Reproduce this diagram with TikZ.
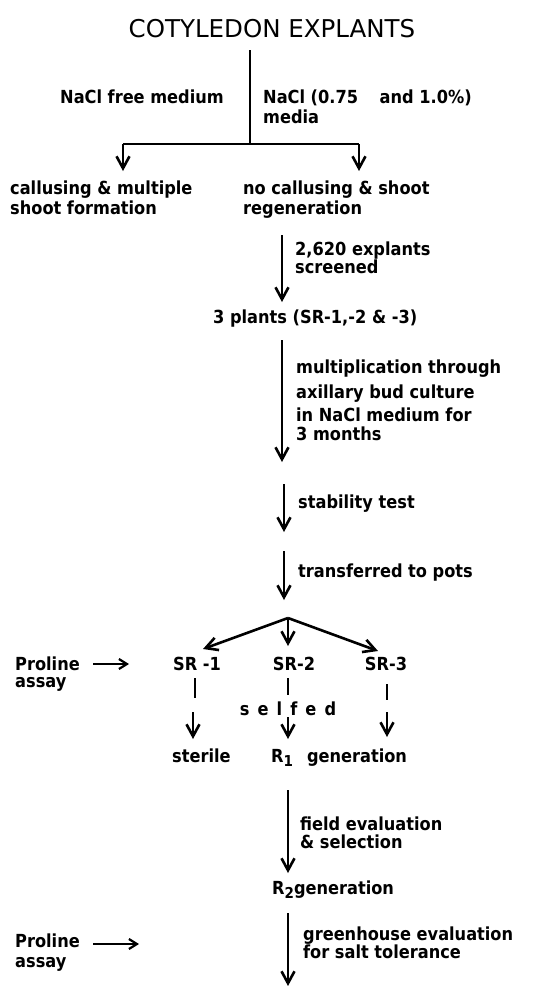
\documentclass[tikz,border=0pt]{standalone}
\usepackage{fontspec}
\usetikzlibrary{arrows.meta}
\newfontfamily\titlefont{DejaVu Sans}
\newfontfamily\labfont{DejaVu Sans Condensed}
\tikzset{
  lab/.style={font=\labfont\bfseries\fontsize{18}{20}\selectfont, inner sep=0pt, anchor=base west},
  labc/.style={lab, anchor=base},
  flow/.style={line width=2.6pt, -{Straight Barb[length=12pt,width=13pt]}},
  plain/.style={line width=2.6pt},
  tick/.style={line width=2.2pt},
  side/.style={line width=2.2pt, -{Straight Barb[length=8pt,width=10pt]}}
}
\newcommand{\subdown}[1]{\raisebox{-4pt}{\fontsize{15}{15}\selectfont #1}}
\begin{document}
\begin{tikzpicture}[x=1pt,y=-1pt]
\useasboundingbox (0,0) rectangle (549,986);

% title and first split
\node[inner sep=0pt, anchor=base, font=\titlefont\fontsize{24.5}{28}\selectfont] (title) at (272,37) {COTYLEDON EXPLANTS};
\coordinate (split) at (250,144);
\coordinate (splitL) at (123,144);
\coordinate (splitR) at (359,144);
\coordinate (callL) at (123,171);
\coordinate (callR) at (359,171);
\draw[plain] (250,50) -- (split);
\draw[plain] (splitL) -- (splitR);
\draw[flow] (splitL) -- (callL);
\draw[flow] (splitR) -- (callR);

\node[lab] (free) at (60,103) {NaCl free medium};
\node[lab] (salt) at (263,103) {NaCl (0.75\hspace{16pt} and 1.0\%)};
\node[lab] (media) at (263,123) {media};

\node[lab] (callA) at (10,194) {callusing \& multiple};
\node[lab] (callB) at (10,214) {shoot formation};
\node[lab] (noA) at (243,194) {no callusing \& shoot};
\node[lab] (noB) at (243,214) {regeneration};

% screening
\coordinate (s1) at (282,235);
\coordinate (s2) at (282,302);
\draw[flow] (s1) -- (s2);
\node[lab] (scrA) at (295,255) {2,620 explants};
\node[lab] (scrB) at (295,273) {screened};

\node[lab] (plants) at (213,323) {3 plants (SR-1,-2 \& -3)};

% multiplication
\coordinate (m1) at (282,340);
\coordinate (m2) at (282,462);
\draw[flow] (m1) -- (m2);
\node[lab] (mulA) at (296,373) {multiplication through};
\node[lab] (mulB) at (296,398) {axillary bud culture};
\node[lab] (mulC) at (296,421) {in NaCl medium for};
\node[lab] (mulD) at (296,440) {3 months};

% stability
\coordinate (st1) at (284,484);
\coordinate (st2) at (284,532);
\draw[flow] (st1) -- (st2);
\node[lab] (stab) at (298,508) {stability test};

% transfer
\coordinate (t1) at (284,551);
\coordinate (t2) at (284,600);
\draw[flow] (t1) -- (t2);
\node[lab] (trans) at (298,577) {transferred to pots};

% three lines
\coordinate (br) at (288,618);
\node[labc] (sr1) at (197,670) {SR -1};
\node[labc] (sr2) at (294,670) {SR-2};
\node[labc] (sr3) at (386,670) {SR-3};
\draw[flow] (br) -- (203,649);
\draw[flow] (br) -- (288,646);
\draw[flow] (br) -- (378,651);

\node[lab] (pro1) at (15,670) {Proline};
\node[lab] (as1) at (15,687) {assay};
\draw[side] (93,664) -- (129,664);

\draw[tick] (195,678) -- (195,698);
\draw[tick] (288,678) -- (288,695);
\draw[tick] (387,684) -- (387,700);
\node[labc, font=\labfont\bfseries\fontsize{18}{20}\selectfont\addfontfeature{LetterSpace=45}] (selfed) at (288,715) {selfed};
\draw[flow] (193,712) -- (193,739);
\draw[flow] (288,717) -- (288,739);
\draw[flow] (387,712) -- (387,737);

\node[lab] (steril) at (172,762) {sterile};
\node[lab] (r1) at (271,762) {R\subdown{1}\hspace{14pt}generation};

% field evaluation
\coordinate (f1) at (288,790);
\coordinate (f2) at (288,873);
\draw[flow] (f1) -- (f2);
\node[lab] (fldA) at (300,830) {field evaluation};
\node[lab] (fldB) at (300,848) {\& selection};

\node[lab] (r2) at (272,894) {R\subdown{2}generation};

% greenhouse
\coordinate (g1) at (288,913);
\coordinate (g2) at (288,986);
\draw[flow] (g1) -- (g2);
\node[lab] (grA) at (303,940) {greenhouse evaluation};
\node[lab] (grB) at (303,958) {for salt tolerance};

\node[lab] (pro2) at (15,947) {Proline};
\node[lab] (as2) at (15,967) {assay};
\draw[side] (93,944) -- (139,944);
\end{tikzpicture}
\end{document}
